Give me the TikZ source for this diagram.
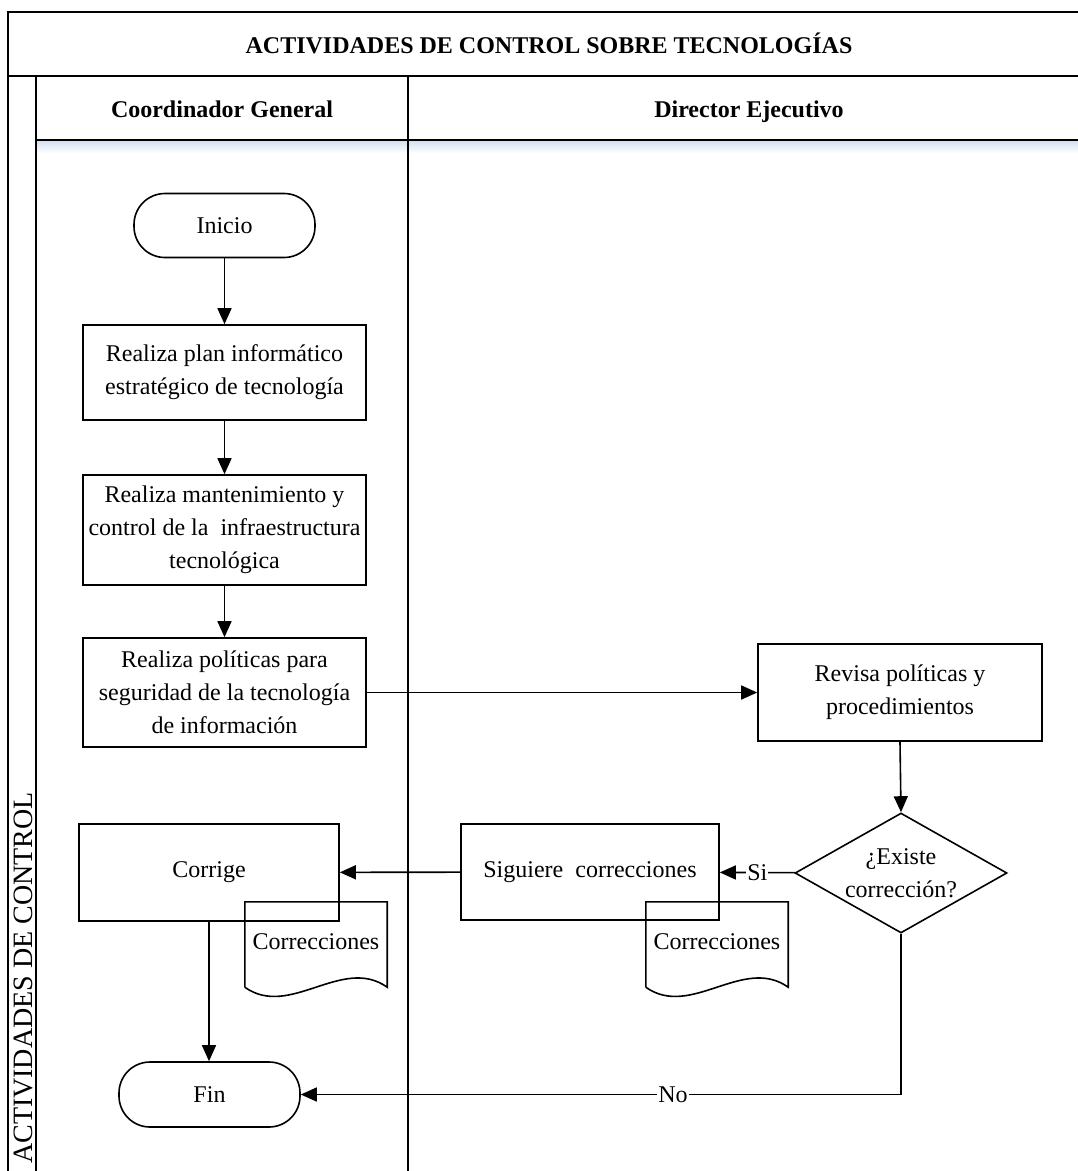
\documentclass[tikz,border=0pt]{standalone}
\usepackage{fontspec}
\setmainfont{Liberation Serif}
\usetikzlibrary{positioning,shapes.geometric,arrows.meta}

\definecolor{sombra}{HTML}{D3E1F1}

% outline of a document symbol around a node
\newcommand\hoja[1]{%
  \draw[linea] (#1.south west) -- (#1.north west) -- (#1.north east) -- (#1.south east)
    .. controls +(-45,-32) and +(45,32) .. (#1.south west);}

\begin{document}
\begin{tikzpicture}[x=1pt, y=-1pt,
  every node/.style={font=\fontsize{24}{33}\selectfont},
  linea/.style={line width=1.6pt},
  marco/.style={line width=2pt},
  proceso/.style={draw, linea, rectangle, align=center, minimum width=283pt, inner sep=2pt},
  terminal/.style={draw, linea, rectangle, rounded corners=31pt, minimum width=181pt, minimum height=64pt},
  decision/.style={draw, linea, diamond, aspect=1.77, align=center, inner sep=0pt,
    minimum width=212pt, minimum height=120pt},
  hojita/.style={rectangle, minimum width=142pt, minimum height=85pt, inner sep=0pt},
  titulo/.style={font=\fontsize{24}{30}\selectfont\bfseries, anchor=base},
  flecha/.style={linea, -{Triangle[length=16pt,width=14pt]}},
  etiq/.style={fill=white, inner sep=1pt}]
\useasboundingbox (0,0) rectangle (1078,1171);
\clip (0,0) rectangle (1078,1171);

% pool and lanes
\shade[top color=sombra, bottom color=white] (36,141) rectangle (1090,153);
\draw[marco] (1090,12) -- (8,12) -- (8,1190);
\draw[marco] (8,76) -- (1090,76);
\draw[marco] (36,76) -- (36,1190);
\draw[marco] (36,140) -- (1090,140);
\draw[marco] (408,76) -- (408,1190);
\draw[marco] (1090,12) -- (1090,1190);

\node[titulo] (pool) at (549,53) {ACTIVIDADES DE CONTROL SOBRE TECNOLOGÍAS};
\node[titulo] (coord) at (222,117) {Coordinador General};
\node[titulo] (direc) at (749,117) {Director Ejecutivo};
\node[font=\fontsize{28}{30}\selectfont, rotate=90, anchor=base] (lado) at (32,978) {ACTIVIDADES DE CONTROL};

% Coordinador General
\node[terminal] (inicio) at (224.5,225.5) {Inicio};
\node[proceso, minimum height=95pt] (plan) at (224.5,372.5)
  {Realiza plan informático\\estratégico de tecnología};
\node[proceso, minimum height=110pt] (mant) at (224.5,530)
  {Realiza mantenimiento y\\control de la~ infraestructura\\tecnológica};
\node[proceso, minimum height=109pt] (polit) at (224.5,692.5)
  {Realiza políticas para\\seguridad de la tecnología\\de información};
\node[proceso, minimum width=260pt, minimum height=97pt] (corrige) at (209,872.5) {Corrige};
\node[hojita] (hoja1) at (316,944.5) {\raisebox{6pt}{Correcciones}};
\node[terminal, minimum height=65pt] (fin) at (209.5,1094.5) {Fin};

% Director Ejecutivo
\node[proceso, minimum width=284pt, minimum height=97pt] (revisa) at (900,692.5)
  {Revisa políticas y\\procedimientos};
\node[decision] (existe) at (901,873) {¿Existe\\corrección?};
\node[proceso, minimum width=258pt, minimum height=96pt] (sugiere) at (590,872)
  {Siguiere~ correcciones};
\node[hojita] (hoja2) at (717,944.5) {\raisebox{6pt}{Correcciones}};

\hoja{hoja1}
\hoja{hoja2}

% flujo
\draw[flecha] (inicio) -- (plan);
\draw[flecha] (plan) -- (mant);
\draw[flecha] (mant) -- (polit);
\draw[flecha] (polit) -- (revisa);
\draw[flecha] (revisa.south) -- (existe.north);
\draw[flecha] (existe) -- node[etiq] {Si} (sugiere);
\draw[flecha] (sugiere) -- (corrige);
\draw[flecha] (corrige.south) -- (corrige.south |- fin.north);
\draw[flecha] (existe.south) |- node[etiq, pos=0.69] {No} (fin.east);
\end{tikzpicture}
\end{document}
